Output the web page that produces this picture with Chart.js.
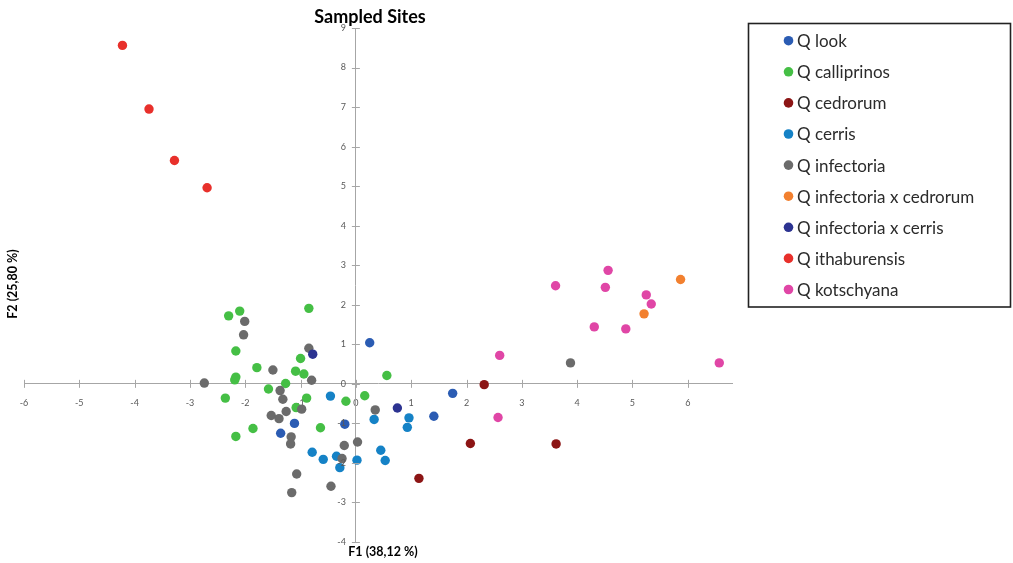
<!DOCTYPE html>
<html>
<head>
<meta charset="utf-8">
<script src="https://cdn.jsdelivr.net/npm/chart.js@4/dist/chart.umd.min.js"></script>
<style>
html,body{margin:0;padding:0;background:#fff;}
#wrap{width:1013px;height:563px;position:relative;}
</style>
</head>
<body>
<div id="wrap"><canvas id="c" width="1013" height="563"></canvas></div>
<script>
// ---------- Data ----------
const chartTitle = "Sampled Sites";
const xAxisTitle = "F1 (38,12 %)";
const yAxisTitle = "F2 (25,80 %)";

const seriesNames = [
  "Q look", "Q calliprinos", "Q cedrorum", "Q cerris", "Q infectoria",
  "Q infectoria x cedrorum", "Q infectoria x cerris", "Q ithaburensis", "Q kotschyana"
];
const seriesColors = [
  "#2b5cb3", "#45bf45", "#8c1515", "#1582c6", "#6b6b6b",
  "#f2802f", "#2c3391", "#e8302b", "#e046a6"
];

const lookX = [0.25, 1.75, 1.41, -0.20, -1.11, -1.36];
const lookY = [1.04, -0.24, -0.82, -1.02, -1.00, -1.25];

const calliprinosX = [-2.30, -2.10, -0.85, -2.17, -1.79, -2.17, -2.19, -1.00, -1.09, -0.94, -1.27,
                      -1.58, -2.36, -0.89, -0.18, 0.16, -1.08, -1.86, -2.17, -0.64, 0.56];
const calliprinosY = [1.72, 1.84, 1.91, 0.83, 0.41, 0.17, 0.10, 0.64, 0.32, 0.25, 0.01,
                      -0.13, -0.36, -0.36, -0.44, -0.30, -0.60, -1.13, -1.33, -1.11, 0.21];

const cedrorumX = [2.32, 2.07, 3.62, 1.14];
const cedrorumY = [-0.02, -1.51, -1.52, -2.39];

const cerrisX = [-0.46, 0.33, 0.96, 0.93, -0.79, -0.59, -0.35, -0.29, 0.02, 0.45, 0.53];
const cerrisY = [-0.31, -0.90, -0.86, -1.10, -1.73, -1.91, -1.83, -2.12, -1.93, -1.68, -1.94];

const infectoriaX = [-2.74, -2.01, -2.03, -1.50, -0.85, -0.80, -1.37, -1.32, -1.26, -1.53, -1.39,
                     -0.98, -1.17, -1.18, -1.07, -1.16, -0.45, -0.21, -0.25, 0.03, 0.35, 3.88];
const infectoriaY = [0.02, 1.58, 1.24, 0.35, 0.90, 0.09, -0.17, -0.39, -0.70, -0.80, -0.88,
                     -0.64, -1.34, -1.52, -2.28, -2.75, -2.59, -1.56, -1.89, -1.47, -0.66, 0.53];

const infCedrorumX = [5.87, 5.21];
const infCedrorumY = [2.64, 1.77];

const infCerrisX = [-0.78, 0.75];
const infCerrisY = [0.75, -0.61];

const ithaburensisX = [-4.22, -3.74, -3.28, -2.69];
const ithaburensisY = [8.56, 6.95, 5.65, 4.96];

const kotschyanaX = [4.56, 3.61, 4.51, 5.25, 5.34, 4.31, 4.88, 2.60, 6.57, 2.57];
const kotschyanaY = [2.87, 2.48, 2.44, 2.25, 2.02, 1.44, 1.39, 0.72, 0.53, -0.85];

const xRange = [-6, 6.8];
const yRange = [-4, 9];

// ---------- Build datasets ----------
const seriesX = [lookX, calliprinosX, cedrorumX, cerrisX, infectoriaX, infCedrorumX, infCerrisX, ithaburensisX, kotschyanaX];
const seriesY = [lookY, calliprinosY, cedrorumY, cerrisY, infectoriaY, infCedrorumY, infCerrisY, ithaburensisY, kotschyanaY];

const datasets = seriesNames.map((name, i) => ({
  label: name,
  data: seriesX[i].map((x, k) => ({ x: x, y: seriesY[i][k] })),
  backgroundColor: seriesColors[i],
  borderColor: seriesColors[i],
  borderWidth: 0,
  pointRadius: 4.7,
  pointHoverRadius: 4.7,
  order: seriesNames.length - i   // later series drawn on top (like Excel)
}));

const axisColor = '#a6a6a6';
const tickTextColor = '#595959';

// ---------- Text / legend / tick plugin ----------
const textPlugin = {
  id: 'excelTexts',
  afterDraw(chart) {
    const ctx = chart.ctx;
    const xs = chart.scales.x, ys = chart.scales.y;
    const x0 = xs.getPixelForValue(0);
    const y0 = ys.getPixelForValue(0);
    ctx.save();

    // cross tick marks (Excel style) on both axes
    ctx.strokeStyle = axisColor;
    ctx.lineWidth = 1;
    ctx.beginPath();
    xs.ticks.forEach(t => {
      const px = Math.round(xs.getPixelForValue(t.value)) + 0.5;
      ctx.moveTo(px, y0 - 4); ctx.lineTo(px, y0 + 4);
    });
    ys.ticks.forEach(t => {
      const py = Math.round(ys.getPixelForValue(t.value)) + 0.5;
      ctx.moveTo(x0 - 4, py); ctx.lineTo(x0 + 4, py);
    });
    ctx.stroke();

    // y tick labels, left of the vertical axis
    ctx.fillStyle = tickTextColor;
    ctx.font = '9px Lato';
    ctx.textAlign = 'right';
    ctx.textBaseline = 'middle';
    ys.ticks.forEach(t => {
      ctx.fillText(String(t.value), x0 - 10, ys.getPixelForValue(t.value));
    });

    // titles
    ctx.fillStyle = '#000';
    ctx.textAlign = 'center';
    ctx.font = 'bold 18px Lato';
    ctx.fillText(chartTitle, 370, 17);
    ctx.font = 'bold 12.5px Lato';
    ctx.fillText(xAxisTitle, 383, 552);
    ctx.save();
    ctx.translate(13, 284);
    ctx.rotate(-Math.PI / 2);
    ctx.fillText(yAxisTitle, 0, 0);
    ctx.restore();

    // legend box
    ctx.strokeStyle = '#222';
    ctx.lineWidth = 1.6;
    ctx.strokeRect(748.5, 23.5, 262, 283.5);
    ctx.textAlign = 'left';
    ctx.font = '17px Lato';
    chart.data.datasets.forEach((ds, i) => {
      const cy = 40.7 + i * 31.1;
      ctx.beginPath();
      ctx.arc(788.5, cy, 4.8, 0, Math.PI * 2);
      ctx.fillStyle = ds.backgroundColor;
      ctx.fill();
      ctx.fillStyle = '#2b2b2b';
      ctx.fillText(ds.label, 797, cy + 1);
    });
    ctx.restore();
  }
};

new Chart(document.getElementById('c'), {
  type: 'scatter',
  data: { datasets: datasets },
  options: {
    responsive: false,
    animation: false,
    events: [],
    layout: { padding: { left: 24, right: 281, top: 28, bottom: 21 } },
    plugins: { legend: { display: false }, tooltip: { enabled: false }, title: { display: false } },
    scales: {
      x: {
        type: 'linear',
        position: { y: 0 },
        min: xRange[0], max: xRange[1],
        ticks: { stepSize: 1, includeBounds: false, autoSkip: false, maxRotation: 0,
                 font: { size: 9, family: 'Lato' }, color: tickTextColor, padding: 14 },
        grid: { display: true, drawOnChartArea: false, drawTicks: false, tickLength: 5,
                color: axisColor, tickColor: axisColor },
        border: { display: true, color: axisColor, width: 1 },
        afterFit(s) { s.height = 0; }
      },
      y: {
        type: 'linear',
        position: { x: 0 },
        min: yRange[0], max: yRange[1],
        ticks: { display: false, stepSize: 1, includeBounds: false, autoSkip: false },
        grid: { display: true, drawOnChartArea: false, drawTicks: false,
                color: axisColor, tickColor: axisColor },
        border: { display: true, color: axisColor, width: 1 },
        afterFit(s) { s.width = 0; }
      }
    }
  },
  plugins: [textPlugin]
});
</script>
</body>
</html>
